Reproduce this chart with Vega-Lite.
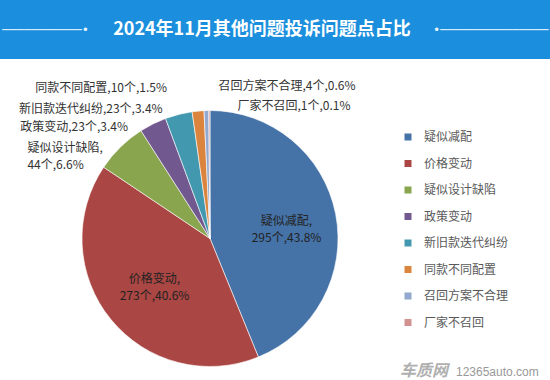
{
  "$schema": "https://vega.github.io/schema/vega-lite/v6.json",
  "background": "white",
  "padding": 0,
  "spacing": 20,
  "config": {"view": {"stroke": null}, "font": "Noto Sans CJK SC"},
  "datasets": {
    "issues": [
      {"name": "疑似减配", "value": 295, "pct": 43.8},
      {"name": "价格变动", "value": 273, "pct": 40.6},
      {"name": "疑似设计缺陷", "value": 44, "pct": 6.6},
      {"name": "政策变动", "value": 23, "pct": 3.4},
      {"name": "新旧款迭代纠纷", "value": 23, "pct": 3.4},
      {"name": "同款不同配置", "value": 10, "pct": 1.5},
      {"name": "召回方案不合理", "value": 4, "pct": 0.6},
      {"name": "厂家不召回", "value": 1, "pct": 0.1}
    ]
  },
  "vconcat": [
    {
      "width": 550,
      "height": 59,
      "view": {"fill": "#1b8fdd", "stroke": null},
      "data": {"values": [{"title": "2024年11月其他问题投诉问题点占比"}]},
      "layer": [
        {
          "mark": {"type": "text", "fontSize": 18, "fontWeight": "bold", "color": "white", "dx": -13, "font": "Noto Sans CJK SC", "baseline": "middle"},
          "encoding": {"text": {"field": "title"}}
        },
        {
          "mark": {"type": "text", "font": "DejaVu Sans Mono", "fontSize": 12, "color": "#e6f3fc", "align": "right", "dx": -186, "baseline": "middle"},
          "encoding": {"text": {"value": "───────────•"}}
        },
        {
          "mark": {"type": "text", "font": "DejaVu Sans Mono", "fontSize": 12, "color": "#e6f3fc", "align": "left", "dx": 158, "baseline": "middle"},
          "encoding": {"text": {"value": "•───────────────"}}
        }
      ]
    },
    {
      "width": 420,
      "height": 301,
      "layer": [
        {
          "data": {"name": "issues"},
          "mark": {"type": "arc", "outerRadius": 128, "stroke": "white", "strokeWidth": 0.6},
          "encoding": {
            "theta": {"field": "value", "type": "quantitative", "stack": true},
            "order": {"field": "value", "sort": "descending"},
            "color": {
              "field": "name",
              "type": "nominal",
              "scale": {
                "domain": ["疑似减配", "价格变动", "疑似设计缺陷", "政策变动", "新旧款迭代纠纷", "同款不同配置", "召回方案不合理", "厂家不召回"],
                "range": ["#4572A7", "#AA4643", "#89A54E", "#71588F", "#4198AF", "#DB843D", "#93A9CF", "#D19392"]
              },
              "legend": {
                "orient": "none",
                "legendX": 402,
                "legendY": 131,
                "title": null,
                "symbolType": "square",
                "symbolSize": 49,
                "symbolStrokeWidth": 0,
                "labelFontSize": 12,
                "labelColor": "#595959",
                "labelFont": "Noto Sans CJK SC",
                "rowPadding": 14.5,
                "labelOffset": 10,
                "padding": 0
              }
            }
          }
        },
        {
          "data": {"name": "issues"},
          "transform": [{"calculate": "[datum.name + ',', datum.value + '个,' + datum.pct + '%']", "as": "lab"}],
          "mark": {"type": "text", "radius": 78, "align": "center", "baseline": "middle", "dy": -2, "fontSize": 12, "color": "#222", "lineHeight": 17},
          "encoding": {
            "theta": {"field": "value", "type": "quantitative", "stack": true},
            "order": {"field": "value", "sort": "descending"},
            "text": {"condition": {"test": "datum.name === '疑似减配'", "field": "lab"}, "value": ""}
          }
        },
        {
          "data": {"name": "issues"},
          "transform": [{"calculate": "[datum.name + ',', datum.value + '个,' + datum.pct + '%']", "as": "lab"}],
          "mark": {"type": "text", "radius": 78, "align": "center", "baseline": "middle", "dx": 5, "dy": -9, "fontSize": 12, "color": "#222", "lineHeight": 17},
          "encoding": {
            "theta": {"field": "value", "type": "quantitative", "stack": true},
            "order": {"field": "value", "sort": "descending"},
            "text": {"condition": {"test": "datum.name === '价格变动'", "field": "lab"}, "value": ""}
          }
        },
        {
          "data": {"name": "issues"},
          "transform": [{"calculate": "[datum.name + ',', datum.value + '个,' + datum.pct + '%']", "as": "lab"}],
          "mark": {"type": "text", "radius": 128, "align": "left", "baseline": "middle", "dx": -93, "dy": 1, "fontSize": 12, "color": "#333", "lineHeight": 17},
          "encoding": {
            "theta": {"field": "value", "type": "quantitative", "stack": true},
            "order": {"field": "value", "sort": "descending"},
            "text": {"condition": {"test": "datum.name === '疑似设计缺陷'", "field": "lab"}, "value": ""}
          }
        },
        {
          "data": {"name": "issues"},
          "transform": [{"calculate": "datum.name + ',' + datum.value + '个,' + datum.pct + '%'", "as": "lab"}],
          "mark": {"type": "text", "radius": 128, "align": "right", "baseline": "middle", "dx": -25, "dy": 3, "fontSize": 12, "color": "#333"},
          "encoding": {
            "theta": {"field": "value", "type": "quantitative", "stack": true},
            "order": {"field": "value", "sort": "descending"},
            "text": {"condition": {"test": "datum.name === '政策变动'", "field": "lab"}, "value": ""}
          }
        },
        {
          "data": {"name": "issues"},
          "transform": [{"calculate": "datum.name + ',' + datum.value + '个,' + datum.pct + '%'", "as": "lab"}],
          "mark": {"type": "text", "radius": 128, "align": "right", "baseline": "middle", "dx": -16, "dy": -5, "fontSize": 12, "color": "#333"},
          "encoding": {
            "theta": {"field": "value", "type": "quantitative", "stack": true},
            "order": {"field": "value", "sort": "descending"},
            "text": {"condition": {"test": "datum.name === '新旧款迭代纠纷'", "field": "lab"}, "value": ""}
          }
        },
        {
          "data": {"name": "issues"},
          "transform": [{"calculate": "datum.name + ',' + datum.value + '个,' + datum.pct + '%'", "as": "lab"}],
          "mark": {"type": "text", "radius": 128, "align": "right", "baseline": "middle", "dx": -31, "dy": -23, "fontSize": 12, "color": "#333"},
          "encoding": {
            "theta": {"field": "value", "type": "quantitative", "stack": true},
            "order": {"field": "value", "sort": "descending"},
            "text": {"condition": {"test": "datum.name === '同款不同配置'", "field": "lab"}, "value": ""}
          }
        },
        {
          "data": {"name": "issues"},
          "transform": [{"calculate": "datum.name + ',' + datum.value + '个,' + datum.pct + '%'", "as": "lab"}],
          "mark": {"type": "text", "radius": 128, "align": "left", "baseline": "middle", "dx": 12, "dy": -25, "fontSize": 12, "color": "#333"},
          "encoding": {
            "theta": {"field": "value", "type": "quantitative", "stack": true},
            "order": {"field": "value", "sort": "descending"},
            "text": {"condition": {"test": "datum.name === '召回方案不合理'", "field": "lab"}, "value": ""}
          }
        },
        {
          "data": {"name": "issues"},
          "transform": [{"calculate": "datum.name + ',' + datum.value + '个,' + datum.pct + '%'", "as": "lab"}],
          "mark": {"type": "text", "radius": 128, "align": "left", "baseline": "middle", "dx": 28, "dy": -5, "fontSize": 12, "color": "#333"},
          "encoding": {
            "theta": {"field": "value", "type": "quantitative", "stack": true},
            "order": {"field": "value", "sort": "descending"},
            "text": {"condition": {"test": "datum.name === '厂家不召回'", "field": "lab"}, "value": ""}
          }
        },
        {
          "data": {"values": [{"brand": "车质网", "site": "12365auto.com"}]},
          "mark": {"type": "text", "align": "left", "baseline": "middle", "dx": 190, "dy": 132, "fontSize": 16, "fontWeight": "bold", "fontStyle": "italic", "color": "#b0b0b0"},
          "encoding": {"text": {"field": "brand"}}
        },
        {
          "data": {"values": [{"brand": "车质网", "site": "12365auto.com"}]},
          "mark": {"type": "text", "align": "left", "baseline": "middle", "dx": 246, "dy": 133, "fontSize": 12, "color": "#999999", "font": "Liberation Sans"},
          "encoding": {"text": {"field": "site"}}
        }
      ]
    }
  ]
}
